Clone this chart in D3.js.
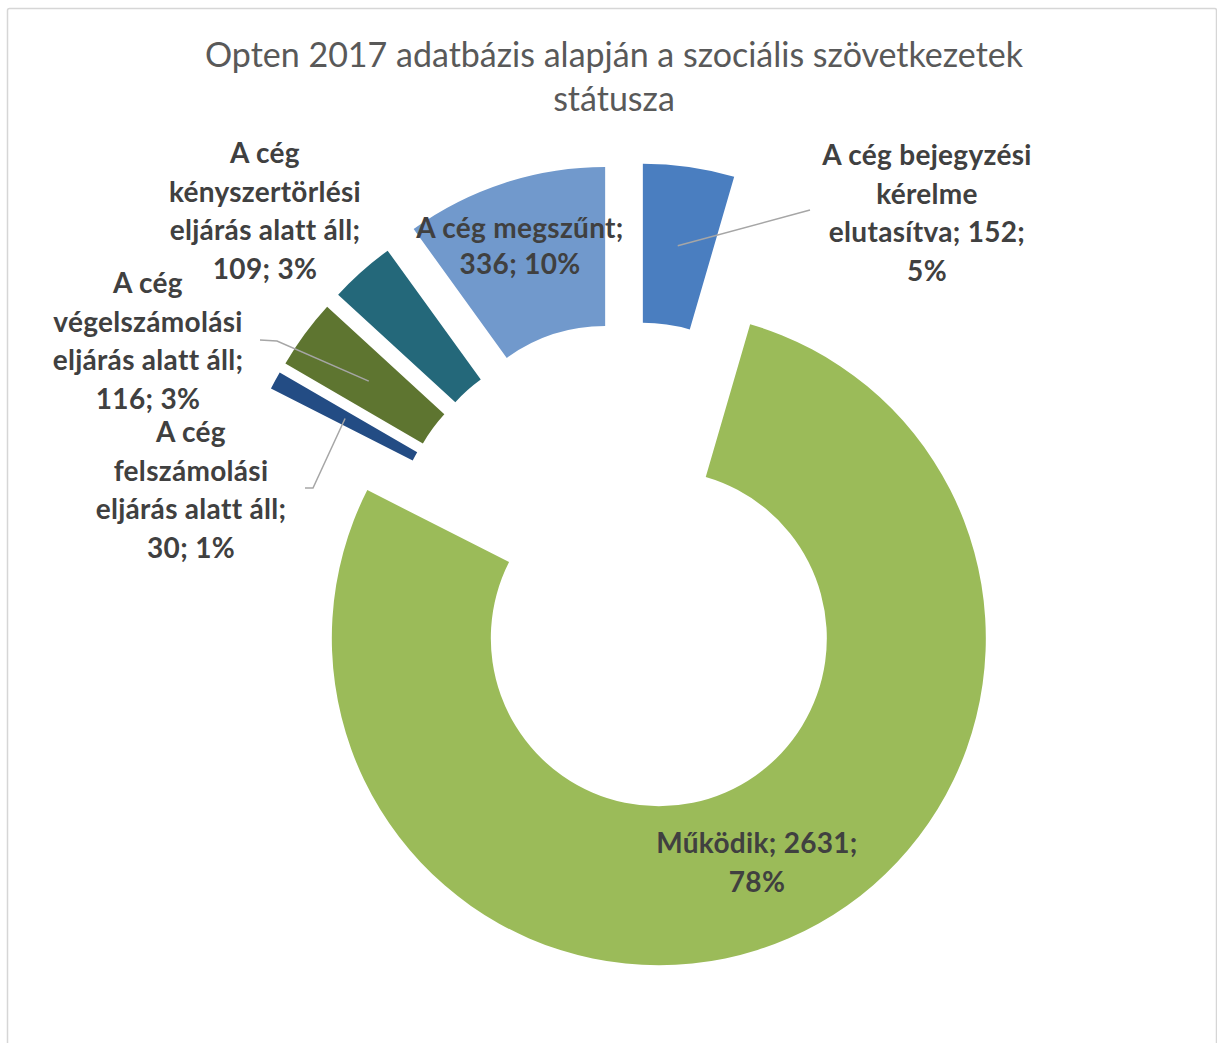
<!DOCTYPE html>
<html>
<head>
<meta charset="utf-8">
<script src="https://cdn.jsdelivr.net/npm/d3@7"></script>
<style>
  html, body { margin: 0; padding: 0; background: #ffffff; }
  svg { display: block; }
</style>
</head>
<body>
<svg id="chart" width="1217" height="1043"></svg>
<script>
// ---------- DATA ----------
const titleLines = ["Opten 2017 adatbázis alapján a szociális szövetkezetek", "státusza"];
const categories = [
  "A cég bejegyzési kérelme elutasítva",
  "Működik",
  "A cég felszámolási eljárás alatt áll",
  "A cég végelszámolási eljárás alatt áll",
  "A cég kényszertörlési eljárás alatt áll",
  "A cég megszűnt"
];
const values = [152, 2631, 30, 116, 109, 336];

// ---------- STYLE / LAYOUT ----------
const colors = ["#4a7ec0", "#9bbb59", "#234c84", "#5e7530", "#24687a", "#7199cc"];
const explode = [84, 70, 78, 78, 78, 84];
const wrapCounts = [[3,1,2,1],[2,1],[2,1,3,2],[2,1,3,2],[2,1,3,2],[3,2]];
const labelPos = [
  {x: 927, y: 155, dy: 38.5, leader: [[810, 210]]},
  {x: 757, y: 843, dy: 38.5, leader: null},
  {x: 191, y: 432, dy: 38.5, leader: [[305, 488], [313, 488]]},
  {x: 148, y: 283, dy: 38.5, leader: [[260, 340], [277, 341]]},
  {x: 265, y: 153, dy: 38.5, leader: null},
  {x: 520, y: 228, dy: 36, leader: null}
];
const center = {x: 631, y: 574};
const outerR = 327, innerR = 168;

const svg = d3.select("#chart");
const W = 1217, H = 1043;

// chart border
svg.append("rect")
  .attr("x", 7.5).attr("y", 8.5)
  .attr("width", W - 8).attr("height", H + 10)
  .attr("rx", 2)
  .attr("fill", "#ffffff")
  .attr("stroke", "#d6d6d6").attr("stroke-width", 1.5);

// title
svg.append("g").selectAll("text").data(titleLines).join("text")
  .attr("x", 614)
  .attr("y", (d, i) => 67 + i * 44)
  .attr("text-anchor", "middle")
  .attr("font-family", "Lato, 'Open Sans', sans-serif")
  .attr("font-size", 34)
  .attr("fill", "#595959")
  .text(d => d);

const total = d3.sum(values);
const pctFmt = d3.format(".0%");
const data = categories.map((c, i) => ({name: c, value: values[i], i}));

const pie = d3.pie().value(d => d.value).sort(null).startAngle(0).endAngle(2 * Math.PI);
const arcs = pie(data);
const arc = d3.arc().innerRadius(innerR).outerRadius(outerR);

const g = svg.append("g").attr("transform", `translate(${center.x},${center.y})`);

function offsetOf(a) {
  const mid = (a.startAngle + a.endAngle) / 2;
  const d = explode[a.data.i];
  return [d * Math.sin(mid), -d * Math.cos(mid)];
}

g.selectAll("path.slice").data(arcs).join("path")
  .attr("class", "slice")
  .attr("transform", a => { const o = offsetOf(a); return `translate(${o[0]},${o[1]})`; })
  .attr("d", arc)
  .attr("fill", a => colors[a.data.i]);

// leader lines
arcs.forEach(a => {
  const lp = labelPos[a.data.i];
  if (!lp.leader) return;
  const o = offsetOf(a);
  const c = arc.centroid(a);
  const end = [center.x + o[0] + c[0], center.y + o[1] + c[1]];
  const pts = lp.leader.concat([end]);
  svg.append("path")
    .attr("d", d3.line()(pts))
    .attr("fill", "none")
    .attr("stroke", "#a6a6a6")
    .attr("stroke-width", 1.5);
});

// labels
arcs.forEach(a => {
  const i = a.data.i;
  const full = `${a.data.name}; ${a.data.value}; ${pctFmt(a.data.value / total)}`;
  const words = full.split(" ");
  const lines = [];
  let k = 0;
  wrapCounts[i].forEach(n => { lines.push(words.slice(k, k + n).join(" ")); k += n; });
  const lp = labelPos[i];
  svg.append("g").selectAll("text").data(lines).join("text")
    .attr("x", lp.x)
    .attr("y", (d, j) => lp.y + j * lp.dy + 10)
    .attr("text-anchor", "middle")
    .attr("font-family", "Lato, 'Open Sans', sans-serif")
    .attr("font-weight", "bold")
    .attr("font-size", 28)
    .attr("letter-spacing", 0.3)
    .attr("fill", "#404040")
    .text(d => d);
});
</script>
</body>
</html>
